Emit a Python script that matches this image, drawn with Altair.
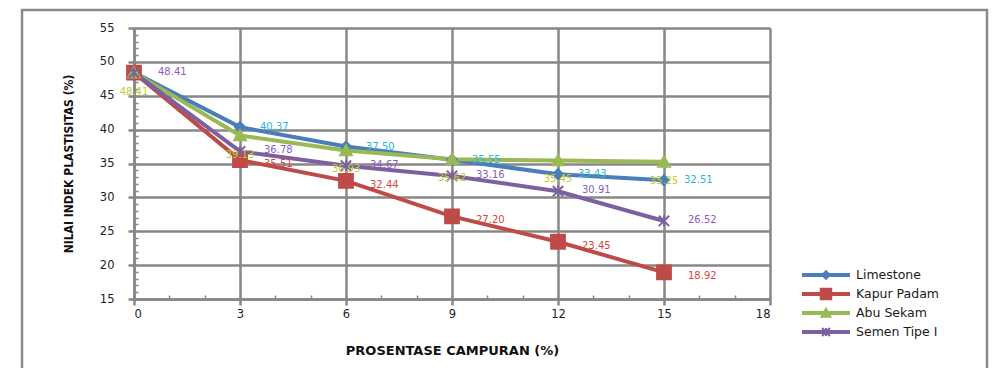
import altair as alt
import pandas as pd

# ---- data ----
kadar = [0, 3, 6, 9, 12, 15]
seri = ["Limestone", "Kapur Padam", "Abu Sekam", "Semen Tipe I"]
limestone = [48.41, 40.37, 37.50, 35.55, 33.43, 32.51]
kapur_padam = [48.41, 35.51, 32.44, 27.20, 23.45, 18.92]
abu_sekam = [48.41, 39.13, 36.93, 35.62, 35.45, 35.25]
semen_tipe1 = [48.41, 36.78, 34.67, 33.16, 30.91, 26.52]
x_ticks = [0, 3, 6, 9, 12, 15, 18]
x_minor = list(range(0, 19))
y_ticks = [15, 20, 25, 30, 35, 40, 45, 50, 55]
y_minor = list(range(15, 56))

line_colors = ["#4A7EBB", "#BE4B48", "#98B954", "#7D60A0"]
label_colors = ["#2FB3D6", "#D9453D", "#C3CE2C", "#8A5DBE"]
shapes = [
    "M0,-0.72L0.72,0L0,0.72L-0.72,0Z",
    "M-1,-1H1V1H-1Z",
    "M0,-0.8L0.85,0.7H-0.85Z",
    "M-0.75,-0.75L0.75,0.75M-0.75,0.75L0.75,-0.75M0,-0.75V0.75",
]

rows = []
for s, vals in zip(seri, [limestone, kapur_padam, abu_sekam, semen_tipe1]):
    for k, v in zip(kadar, vals):
        rows.append({"series": s, "x": k, "value": v, "label": f"{v:.2f}"})
df = pd.DataFrame(rows)
leg = pd.DataFrame({"series": seri})

G = "#878787"
xs = alt.Scale(domain=[0, 18], nice=False)
ys = alt.Scale(domain=[15, 55], nice=False, zero=False)
cs = alt.Scale(domain=seri, range=line_colors)
ss = alt.Scale(domain=seri, range=shapes)

x_axis = alt.Axis(values=x_ticks, title="PROSENTASE CAMPURAN (%)", grid=True,
                  gridColor=G, gridWidth=2.5, domainColor=G, domainWidth=2.5,
                  tickColor=G, tickWidth=2.5, tickSize=6, labelFont="DejaVu Sans",
                  labelFontSize=11.5, labelColor="#1d1d2b", labelPadding=3,
                  titleFont="DejaVu Sans", titleFontWeight="bold", titleFontSize=13,
                  titleColor="#111111", titlePadding=25, format="d")
y_axis = alt.Axis(values=y_ticks, title="NILAI INDEK PLASTISITAS (%)", grid=True,
                  gridColor=G, gridWidth=2.5, domainColor=G, domainWidth=2.5,
                  tickColor=G, tickWidth=2.5, tickSize=6, labelFont="DejaVu Sans",
                  labelFontSize=11.5, labelColor="#1d1d2b", labelPadding=14,
                  titleFont="DejaVu Sans Condensed", titleFontWeight="bold",
                  titleFontSize=12, titleColor="#111111", titlePadding=24, format="d")
x_minor_axis = alt.Axis(values=x_minor, orient="bottom", offset=-4, tickSize=4,
                        tickWidth=1.5, tickColor=G, domain=False, labels=False,
                        grid=False, title=None)
y_minor_axis = alt.Axis(values=y_minor, orient="left", offset=-4, tickSize=4,
                        tickWidth=1.5, tickColor=G, domain=False, labels=False,
                        grid=False, title=None)

frame = alt.Chart(pd.DataFrame({"a": [0]})).mark_rect(
    fillOpacity=0, stroke="#8a8a8a", strokeWidth=2.5
).encode(x=alt.value(-112), x2=alt.value(853), y=alt.value(-18), y2=alt.value(390))

lines = alt.Chart(df).mark_line(strokeWidth=4).encode(
    x=alt.X("x:Q", scale=xs, axis=x_axis),
    y=alt.Y("value:Q", scale=ys, axis=y_axis),
    color=alt.Color("series:N", scale=cs, legend=None),
)

minor = alt.Chart(df).mark_point(opacity=0).encode(
    x=alt.X("x:Q", scale=xs, axis=x_minor_axis),
    y=alt.Y("value:Q", scale=ys, axis=y_minor_axis),
)

points = alt.Chart(df).mark_point(filled=True, size=190, strokeWidth=2, opacity=1).encode(
    x=alt.X("x:Q", scale=xs, axis=None),
    y=alt.Y("value:Q", scale=ys, axis=None),
    color=alt.Color("series:N", scale=cs, legend=None),
    stroke=alt.Stroke("series:N", scale=cs, legend=None),
    shape=alt.Shape("series:N", scale=ss, legend=None),
)

offsets = {
    "Limestone": dict(dx=20, dy=0, align="left", skip0=True),
    "Kapur Padam": dict(dx=24, dy=4, align="left", skip0=True),
    "Abu Sekam": dict(dx=0, dy=19, align="center", skip0=False),
    "Semen Tipe I": dict(dx=24, dy=-1, align="left", skip0=False),
}
texts = []
for s, col in zip(seri, label_colors):
    o = offsets[s]
    flt = alt.datum.series == s
    if o["skip0"]:
        flt = flt & (alt.datum.x > 0)
    texts.append(
        alt.Chart(df).transform_filter(flt).mark_text(
            font="DejaVu Sans", fontSize=10, color=col, baseline="middle",
            dx=o["dx"], dy=o["dy"], align=o["align"]
        ).encode(
            x=alt.X("x:Q", scale=xs, axis=None),
            y=alt.Y("value:Q", scale=ys, axis=None),
            text="label:N",
        )
    )

ly = alt.Y("series:N", scale=alt.Scale(type="point", domain=seri, range=[247, 304], padding=0), axis=None)
leg_rule = alt.Chart(leg).mark_rule(strokeWidth=4).encode(
    x=alt.value(668), x2=alt.value(716), y=ly,
    color=alt.Color("series:N", scale=cs, legend=None),
)
leg_pt = alt.Chart(leg).mark_point(filled=True, size=110, strokeWidth=2, opacity=1).encode(
    x=alt.value(692), y=ly,
    color=alt.Color("series:N", scale=cs, legend=None),
    stroke=alt.Stroke("series:N", scale=cs, legend=None),
    shape=alt.Shape("series:N", scale=ss, legend=None),
)
leg_txt = alt.Chart(leg).mark_text(
    font="DejaVu Sans", fontSize=12.5, color="#1a1a1a", align="left", baseline="middle"
).encode(x=alt.value(722), y=ly, text="series:N")

chart = alt.layer(
    frame, lines, minor, points, *texts, leg_rule, leg_pt, leg_txt
).resolve_scale(y="independent").resolve_axis(x="independent", y="independent").properties(
    width=636, height=271,
    autosize=alt.AutoSizeParams(type="none"),
    padding={"left": 126, "top": 20, "right": 220, "bottom": 69},
    background="white",
).configure_view(strokeWidth=0)

chart.save("out.html", embed_options={"renderer": "svg", "actions": False})
